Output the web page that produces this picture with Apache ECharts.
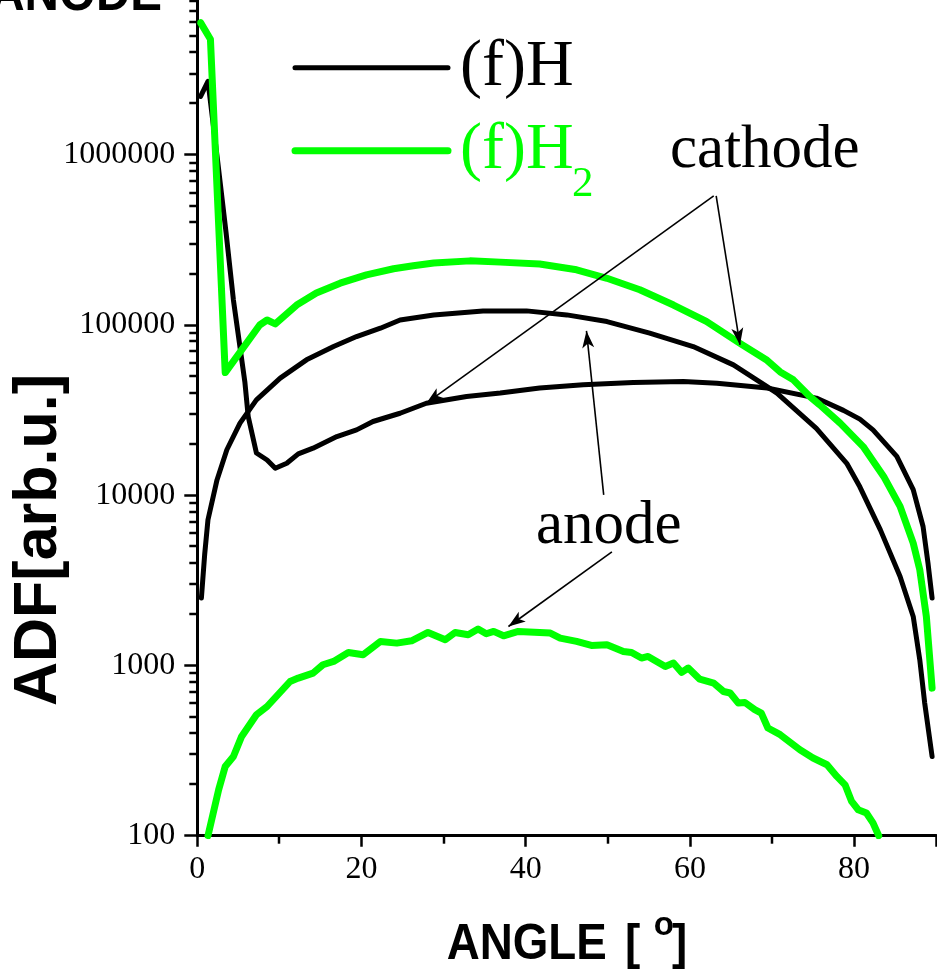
<!DOCTYPE html>
<html>
<head>
<meta charset="utf-8">
<script src="https://cdn.jsdelivr.net/npm/echarts@6/dist/echarts.min.js"></script>
<style>
  html, body { margin: 0; padding: 0; background: #fff; }
  #chart { width: 937px; height: 971px; }
</style>
</head>
<body>
<div id="chart"></div>
<script>
// Angular distribution functions [angle (deg), ADF (arb. u.)]
const hCathode = [
  [0.4, 2.2e6], [1.3, 2.7e6], [2.5, 9.0e5], [3.5, 3.5e5], [4.4, 1.4e5], [5.8, 4.6e4],
  [6.2, 2.9e4], [7.2, 1.77e4], [8.5, 1.61e4], [9.5, 1.44e4], [10.9, 1.54e4], [12.3, 1.75e4],
  [14.1, 1.89e4], [17.0, 2.21e4], [19.4, 2.42e4], [21.4, 2.71e4], [24.7, 3.03e4], [27.9, 3.47e4],
  [32.8, 3.8e4], [36.9, 3.98e4], [41.7, 4.26e4], [47.0, 4.45e4], [53.1, 4.59e4], [59.2, 4.65e4],
  [63.3, 4.55e4], [69.4, 4.26e4], [75.4, 3.72e4], [78.7, 3.15e4], [80.7, 2.8e4], [82.3, 2.42e4],
  [85.2, 1.69e4], [87.2, 1.08e4], [88.4, 6550], [89.0, 3990], [89.5, 2490]
];
const hAnode = [
  [0.5, 2490], [0.9, 4500], [1.3, 7170], [2.4, 12300], [3.6, 18500], [5.2, 26500],
  [7.2, 36300], [10.1, 48700], [13.3, 62400], [16.6, 74700], [19.4, 85500], [22.3, 95700],
  [24.7, 107000], [28.8, 114600], [34.8, 121000], [40.1, 121000], [45.0, 114600], [49.9, 104700],
  [55.1, 89500], [60.4, 74700], [65.3, 58300], [69.4, 43500], [70.6, 39800], [75.4, 24700],
  [79.1, 15400], [80.7, 11200], [83.2, 6260], [85.6, 3330], [87.2, 1940], [88.0, 1080],
  [88.6, 601], [89.5, 292]
];
const h2Cathode = [
  [0.4, 5.97e6], [1.6, 4.77e6], [3.4, 5.25e4], [7.6, 1.0e5], [8.5, 1.07e5], [9.5, 1.015e5],
  [12.1, 1.31e5], [14.5, 1.54e5], [17.4, 1.76e5], [20.6, 1.97e5], [23.9, 2.14e5], [26.3, 2.23e5],
  [28.8, 2.31e5], [33.2, 2.38e5], [36.9, 2.34e5], [41.7, 2.28e5], [46.2, 2.11e5], [49.9, 1.88e5],
  [53.9, 1.61e5], [58.0, 1.31e5], [62.0, 1.05e5], [66.1, 7.8e4], [69.4, 6.2e4], [71.0, 5.3e4],
  [72.6, 4.76e4], [74.6, 3.8e4], [75.8, 3.4e4], [78.3, 2.65e4], [81.1, 1.93e4], [83.6, 1.29e4],
  [85.6, 8600], [87.2, 5230], [88.0, 3650], [88.8, 1940], [89.5, 736]
];
const h2Anode = [
  [1.3, 100], [2.6, 186], [3.4, 255], [4.4, 292], [5.4, 383], [7.2, 514], [8.5, 574],
  [11.3, 805], [12.3, 843], [14.1, 902], [15.3, 1010], [16.6, 1056], [18.4, 1192], [20.2, 1156],
  [22.3, 1384], [24.3, 1353], [26.1, 1396], [28.1, 1563], [30.2, 1415], [31.4, 1563], [33.0, 1514],
  [34.2, 1636], [35.2, 1535], [36.1, 1585], [37.3, 1494], [39.1, 1585], [43.0, 1549], [44.2, 1448],
  [46.2, 1384], [48.0, 1311], [49.9, 1324], [51.9, 1209], [52.9, 1192], [54.1, 1105], [54.9, 1130],
  [57.0, 986], [58.0, 1033], [59.0, 910], [59.8, 966], [61.2, 830], [62.9, 788], [64.1, 703],
  [64.9, 689], [65.9, 601], [66.7, 606], [67.9, 550], [68.7, 525], [69.5, 429], [71.0, 392],
  [73.4, 320], [75.0, 286], [76.7, 261], [77.9, 223], [78.9, 199], [79.7, 159], [80.5, 142],
  [81.5, 136], [82.3, 119], [83.0, 100]
];

// Axis tick values
const angleLabelTicks = [0, 20, 40, 60, 80];
const angleMinorTicks = [10, 30, 50, 70];
const adfLabelTicks = [100, 1000, 10000, 100000, 1000000];
const adfMinorTicks = [
  200, 300, 400, 500, 600, 700, 800, 900,
  2000, 3000, 4000, 5000, 6000, 7000, 8000, 9000,
  20000, 30000, 40000, 50000, 60000, 70000, 80000, 90000,
  200000, 300000, 400000, 500000, 600000, 700000, 800000, 900000,
  2000000, 3000000, 4000000, 5000000, 6000000, 7000000, 8000000, 9000000
];

// Annotation arrows: [from, to] in data coordinates
const cathodeArrows = [
  [[62.9, 5.73e5], [27.9, 34750]],
  [[63.2, 5.73e5], [66.1, 76400]]
];
const anodeArrows = [
  [[49.5, 10050], [47.4, 92300]],
  [[50.5, 4650], [37.9, 1694]]
];

const BLACK = '#000000';
const GREEN = '#00ff00';
const SERIF = '"Liberation Serif", "Times New Roman", serif';
const SANS = '"Liberation Sans", Arial, sans-serif';

function arrowLines(pairs) {
  return pairs.map(p => [{ coord: p[0] }, { coord: p[1] }]);
}

const chart = echarts.init(document.getElementById('chart'), null, { renderer: 'canvas' });

chart.setOption({
  animation: false,
  backgroundColor: '#ffffff',
  grid: {
    left: 197.3, right: 0.8, top: -15.5, bottom: 135.3,
    containLabel: false, outerBoundsMode: 'none'
  },
  xAxis: {
    type: 'value', min: 0, max: 90, interval: 20,
    axisLine: { lineStyle: { color: BLACK, width: 3 } },
    axisTick: { length: 11, lineStyle: { color: BLACK, width: 2.5 } },
    splitLine: { show: false },
    axisLabel: {
      margin: 18, color: BLACK, fontFamily: SERIF, fontSize: 32,
      formatter: v => angleLabelTicks.includes(v) ? String(v) : ''
    }
  },
  yAxis: {
    type: 'log', logBase: 10, min: 100, max: 1e7,
    axisLine: { lineStyle: { color: BLACK, width: 3 } },
    axisTick: { length: 13, lineStyle: { color: BLACK, width: 2.5 } },
    splitLine: { show: false },
    axisLabel: {
      margin: 22, color: BLACK, fontFamily: SERIF, fontSize: 32, padding: [0, 0, 6, 0],
      formatter: v => {
        const r = Math.round(v);
        return adfLabelTicks.includes(r) ? String(r) : '';
      }
    }
  },
  series: [
    {
      name: '(f)H anode', type: 'line', data: hAnode, symbol: 'none', silent: true,
      lineStyle: { color: BLACK, width: 5, join: 'round', cap: 'round' }
    },
    {
      name: '(f)H cathode', type: 'line', data: hCathode, symbol: 'none', silent: true,
      lineStyle: { color: BLACK, width: 5, join: 'round', cap: 'round' },
      markLine: {
        silent: true, symbol: ['none', 'arrow'], symbolSize: [9, 17],
        label: { show: false },
        lineStyle: { color: BLACK, width: 1.6, type: 'solid' },
        data: arrowLines(cathodeArrows).concat(arrowLines(anodeArrows))
      }
    },
    {
      name: '(f)H2 anode', type: 'line', data: h2Anode, symbol: 'none', silent: true,
      lineStyle: { color: GREEN, width: 7, join: 'round', cap: 'round' }
    },
    {
      name: '(f)H2 cathode', type: 'line', data: h2Cathode, symbol: 'none', silent: true,
      lineStyle: { color: GREEN, width: 7, join: 'round', cap: 'round' }
    }
  ]
});

// Texts, legend and minor axis ticks
const graphicEls = [
  // panel title (cut at the top edge)
  {
    type: 'text', x: 162, y: -4, scaleX: 0.915, silent: true,
    style: { text: 'ANODE', fontFamily: SANS, fontWeight: 'bold', fontSize: 52, fill: BLACK, align: 'right', verticalAlign: 'middle' }
  },
  // y axis title
  {
    type: 'text', x: 39, y: 540, rotation: Math.PI / 2, silent: true,
    style: { text: 'ADF[arb.u.]', fontFamily: SANS, fontWeight: 'bold', fontSize: 61, fill: BLACK, align: 'center', verticalAlign: 'middle' }
  },
  // x axis title
  {
    type: 'text', x: 446.7, y: 945.5, scaleX: 0.915, silent: true,
    style: { text: 'ANGLE', fontFamily: SANS, fontWeight: 'bold', fontSize: 50, fill: BLACK, align: 'left', verticalAlign: 'middle' }
  },
  {
    type: 'text', x: 625, y: 945.5, scaleX: 0.915, silent: true,
    style: { text: '[', fontFamily: SANS, fontWeight: 'bold', fontSize: 50, fill: BLACK, align: 'left', verticalAlign: 'middle' }
  },
  {
    type: 'text', x: 653.7, y: 925.6, silent: true,
    style: { text: 'o', fontFamily: SANS, fontWeight: 'bold', fontSize: 33, fill: BLACK, align: 'left', verticalAlign: 'middle' }
  },
  {
    type: 'text', x: 672, y: 945.5, scaleX: 0.915, silent: true,
    style: { text: ']', fontFamily: SANS, fontWeight: 'bold', fontSize: 50, fill: BLACK, align: 'left', verticalAlign: 'middle' }
  },
  // legend
  {
    type: 'line', silent: true,
    shape: { x1: 295, y1: 67.7, x2: 448, y2: 67.7 },
    style: { stroke: BLACK, lineWidth: 5, lineCap: 'round' }
  },
  {
    type: 'text', x: 460, y: 67.5, silent: true,
    style: { text: '(f)H', fontFamily: SERIF, fontSize: 66, fill: BLACK, align: 'left', verticalAlign: 'middle' }
  },
  {
    type: 'line', silent: true,
    shape: { x1: 295, y1: 150.7, x2: 448, y2: 150.7 },
    style: { stroke: GREEN, lineWidth: 7, lineCap: 'round' }
  },
  {
    type: 'text', x: 460, y: 150.5, silent: true,
    style: { text: '(f)H', fontFamily: SERIF, fontSize: 66, fill: GREEN, align: 'left', verticalAlign: 'middle' }
  },
  {
    type: 'text', x: 572, y: 184.5, silent: true,
    style: { text: '2', fontFamily: SERIF, fontSize: 43, fill: GREEN, align: 'left', verticalAlign: 'middle' }
  },
  // curve annotations
  {
    type: 'text', x: 670, y: 151.1, silent: true,
    style: { text: 'cathode', fontFamily: SERIF, fontSize: 61, fill: BLACK, align: 'left', verticalAlign: 'middle' }
  },
  {
    type: 'text', x: 536, y: 527.4, silent: true,
    style: { text: 'anode', fontFamily: SERIF, fontSize: 61, fill: BLACK, align: 'left', verticalAlign: 'middle' }
  }
];

// minor ticks placed through the axes' own scales
const yAxisX = chart.convertToPixel({ xAxisIndex: 0 }, 0);
const xAxisY = chart.convertToPixel({ yAxisIndex: 0 }, 100);
adfMinorTicks.forEach(v => {
  const py = Math.round(chart.convertToPixel({ yAxisIndex: 0 }, v));
  graphicEls.push({
    type: 'line', silent: true, z: 50,
    shape: { x1: yAxisX - 8, y1: py, x2: yAxisX, y2: py },
    style: { stroke: BLACK, lineWidth: 2.5 }
  });
});
angleMinorTicks.forEach(v => {
  const px = Math.round(chart.convertToPixel({ xAxisIndex: 0 }, v));
  graphicEls.push({
    type: 'line', silent: true, z: 50,
    shape: { x1: px, y1: xAxisY, x2: px, y2: xAxisY + 8 },
    style: { stroke: BLACK, lineWidth: 2.5 }
  });
});

chart.setOption({ graphic: graphicEls });
</script>
</body>
</html>
